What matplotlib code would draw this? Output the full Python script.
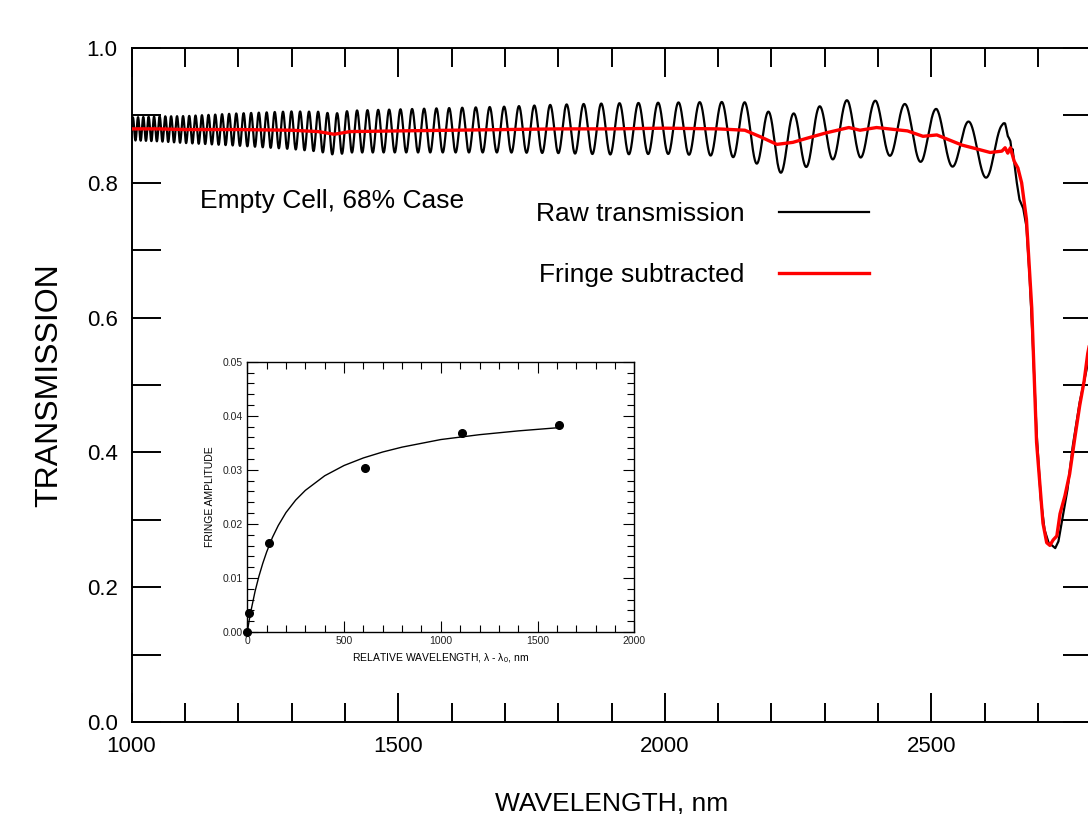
import numpy as np
import matplotlib
matplotlib.use("Agg")
import matplotlib.pyplot as plt
from matplotlib.ticker import MultipleLocator, FormatStrFormatter

plt.rcParams['font.family'] = ['Liberation Sans', 'DejaVu Sans']
plt.rcParams['mathtext.fontset'] = 'custom'
plt.rcParams['mathtext.rm'] = 'Liberation Sans'

# fringe-subtracted spectrum (nm, transmission)
corr_wl = [1000, 1050, 1100, 1200, 1300, 1350, 1380, 1410, 1500, 1600, 1700,
           1800, 1900, 2000, 2100, 2150, 2180, 2210, 2240, 2266, 2302, 2345,
           2366, 2397, 2455, 2484, 2510, 2557, 2591, 2610, 2632, 2638, 2643,
           2648, 2655, 2662, 2669, 2678, 2688, 2697, 2709, 2716, 2722, 2728,
           2735, 2741, 2750, 2759, 2769, 2778, 2786, 2793, 2800]
corr_t = [0.880, 0.880, 0.879, 0.879, 0.878, 0.876, 0.872, 0.876, 0.877, 0.878,
          0.879, 0.880, 0.880, 0.881, 0.880, 0.878, 0.868, 0.857, 0.860, 0.866,
          0.874, 0.882, 0.878, 0.882, 0.877, 0.869, 0.871, 0.856, 0.849, 0.845,
          0.847, 0.852, 0.844, 0.852, 0.832, 0.822, 0.800, 0.746, 0.614, 0.415,
          0.295, 0.266, 0.262, 0.270, 0.276, 0.309, 0.335, 0.368, 0.423, 0.470,
          0.505, 0.547, 0.575]

# fringe half amplitude
amp_wl = [1000, 1100, 1200, 1300, 1400, 1500, 1600, 1700, 1800, 1900, 2000,
          2100, 2200, 2300, 2400, 2500, 2560, 2620, 2645]
amp_t = [0.017, 0.020, 0.024, 0.028, 0.031, 0.032, 0.033, 0.034, 0.036, 0.038,
         0.038, 0.040, 0.043, 0.042, 0.040, 0.039, 0.037, 0.040, 0.038]

# etalon constants of the cell windows (fringe order = K / lambda + offset)
FRINGE_K = 105220.0
FRINGE_OFFSET = 0.055

# raw spectrum inside the absorption band
band_wl = [2652, 2660, 2665, 2672, 2678, 2684, 2690, 2697, 2705, 2712, 2720,
           2726, 2732, 2738, 2745, 2755, 2765, 2778, 2790, 2800]
band_t = [0.850, 0.800, 0.775, 0.762, 0.735, 0.660, 0.560, 0.430, 0.330, 0.285,
          0.265, 0.262, 0.258, 0.268, 0.300, 0.345, 0.410, 0.475, 0.520, 0.560]

# inset: fringe amplitude vs relative wavelength
rel_wl = [0, 10, 110, 610, 1110, 1610]
fringe_amp = [0.0000, 0.0035, 0.0165, 0.0304, 0.0369, 0.0383]
fit_wl = [0, 5, 10, 20, 40, 60, 80, 100, 130, 160, 200, 250, 300, 400, 500,
          600, 700, 800, 1000, 1200, 1400, 1610]
fit_amp = [0.0, 0.0011, 0.0022, 0.0041, 0.0075, 0.0103, 0.0127, 0.0148, 0.0175,
           0.0197, 0.0221, 0.0244, 0.0262, 0.0289, 0.0308, 0.0322, 0.0333,
           0.0342, 0.0356, 0.0365, 0.0372, 0.0378]

fig = plt.figure(figsize=(10.88, 8.14), dpi=100)
W, H = 1088.0, 814.0
ax = fig.add_axes([131.5 / W, 92 / H, 960 / W, 674 / H])

wl = np.linspace(1000, 2651, 8000)
base = np.interp(wl, corr_wl, corr_t)
amp = np.interp(wl, amp_wl, amp_t)
raw = base + amp * np.cos(2 * np.pi * (FRINGE_K / wl + FRINGE_OFFSET))
raw_wl = np.concatenate([wl, band_wl])
raw_t = np.concatenate([raw, band_t])

ax.plot(raw_wl, raw_t, color='black', lw=1.6, label='Raw transmission', zorder=2)
ax.plot(corr_wl, corr_t, color='red', lw=2.4, label='Fringe subtracted', zorder=3)

ax.set_xlim(1000, 2800)
ax.set_ylim(0.0, 1.0)
ax.xaxis.set_major_locator(MultipleLocator(500))
ax.xaxis.set_minor_locator(MultipleLocator(100))
ax.yaxis.set_major_locator(MultipleLocator(0.2))
ax.yaxis.set_minor_locator(MultipleLocator(0.1))
ax.yaxis.set_major_formatter(FormatStrFormatter('%.1f'))
ax.tick_params(which='both', direction='in', top=True, right=True,
               width=1.4, labelsize=16, pad=10)
ax.tick_params(axis='x', which='major', length=21)
ax.tick_params(axis='x', which='minor', length=14)
ax.tick_params(axis='y', which='both', length=21)
for s in ax.spines.values():
    s.set_linewidth(1.4)

ax.set_xlabel('WAVELENGTH, nm', fontsize=19, labelpad=25)
ax.set_ylabel('TRANSMISSION', fontsize=23, labelpad=16)

ax.text(200 / W, (814 - 201) / H, 'Empty Cell, 68% Case', fontsize=19,
        transform=fig.transFigure, va='center', ha='left')

ax.legend(loc='center left', bbox_to_anchor=(536 / W, (814 - 244.5) / H),
          bbox_transform=fig.transFigure, frameon=False, markerfirst=False,
          fontsize=19, handlelength=3.4, handletextpad=1.3, labelspacing=1.39,
          borderpad=0, borderaxespad=0)

# inset
ax2 = fig.add_axes([247.3 / W, 182 / H, 387 / W, 270.3 / H])
ax2.plot(fit_wl, fit_amp, color='black', lw=1.0)
ax2.plot(rel_wl, fringe_amp, 'o', color='black', ms=5.5, clip_on=False)
ax2.set_xlim(0, 2000)
ax2.set_ylim(0, 0.05)
ax2.xaxis.set_major_locator(MultipleLocator(500))
ax2.xaxis.set_minor_locator(MultipleLocator(100))
ax2.yaxis.set_major_locator(MultipleLocator(0.01))
ax2.yaxis.set_minor_locator(MultipleLocator(0.002))
ax2.yaxis.set_major_formatter(FormatStrFormatter('%.2f'))
ax2.tick_params(which='both', direction='in', top=True, right=True,
                width=0.8, labelsize=7.5, pad=3, labelcolor='#222222')
ax2.tick_params(which='major', length=8)
ax2.tick_params(which='minor', length=5)
for s in ax2.spines.values():
    s.set_linewidth(1.0)
ax2.set_xlabel('RELATIVE WAVELENGTH, λ - λ$_0$, nm', fontsize=7.5, labelpad=4)
ax2.set_ylabel('FRINGE AMPLITUDE', fontsize=7.5, labelpad=6)

fig.savefig('out.png', dpi=100)
